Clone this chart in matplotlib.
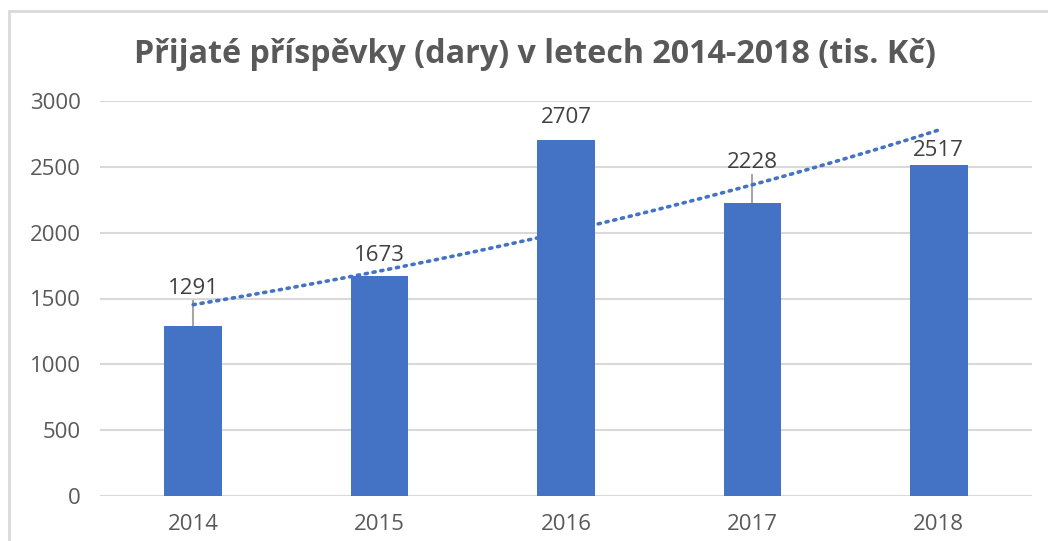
import numpy as np
import matplotlib
matplotlib.use("Agg")
import matplotlib.pyplot as plt
from matplotlib.patches import Rectangle

years = ["2014", "2015", "2016", "2017", "2018"]
values = [1291, 1673, 2707, 2228, 2517]
yticks = [0, 500, 1000, 1500, 2000, 2500, 3000]
title = "Přijaté příspěvky (dary) v letech 2014-2018 (tis. Kč)"

# label placement (style): offset of label centre above bar top, in data units, and leader-line flag
label_offsets = [288, 157, 171, 308, 110]
leader = [True, False, False, True, False]

BLUE = "#4472C4"
GRID = "#D9D9D9"
TXT = "#595959"
FONT = ["Open Sans", "DejaVu Sans"]

plt.rcParams["font.family"] = FONT

fig = plt.figure(figsize=(10.48, 5.41), dpi=100)
ax = fig.add_axes([100/1048, 1-496/541, 932/1048, 395/541])

x = np.arange(len(years))
ax.bar(x, values, width=0.31, color=BLUE, zorder=3)

# exponential trendline (least squares on log values)
b, a = np.polyfit(x, np.log(values), 1)
xt = np.linspace(0, 4, 100)
ax.plot(xt, np.exp(a + b*xt), color=BLUE, lw=2.6, linestyle=(0, (0.6, 1.6)),
        dash_capstyle="round", zorder=4)

for xi, v, off, ld in zip(x, values, label_offsets, leader):
    ly = v + off
    ax.text(xi, ly, f"{v}", ha="center", va="center", fontsize=16, color="#404040", zorder=5)
    if ld:
        ax.plot([xi, xi], [v, ly - 95], color="#A6A6A6", lw=1.5, zorder=2)

ax.set_xlim(-0.5, 4.5)
ax.set_ylim(0, 3000)
ax.set_yticks(yticks)
ax.set_yticklabels([str(t) for t in yticks])
ax.set_xticks(x)
ax.set_xticklabels(years)
ax.tick_params(axis="both", length=0, labelsize=16, labelcolor=TXT)
ax.tick_params(axis="y", pad=14)
ax.tick_params(axis="x", pad=13)
ax.yaxis.grid(True, color=GRID, lw=1.5, zorder=0)
for s in ax.spines.values():
    s.set_visible(False)

fig.text(535/1048, 1-63/541, title, ha="center", va="baseline", fontsize=23.2,
         fontweight="bold", color=TXT)

# chart border
fig.patches.append(Rectangle((9/1048, -0.1), 1.2, 1 - 11/541 + 0.1,
                             transform=fig.transFigure, fill=False,
                             edgecolor="#D9D9D9", lw=2))

fig.savefig("out.png", dpi=100)
